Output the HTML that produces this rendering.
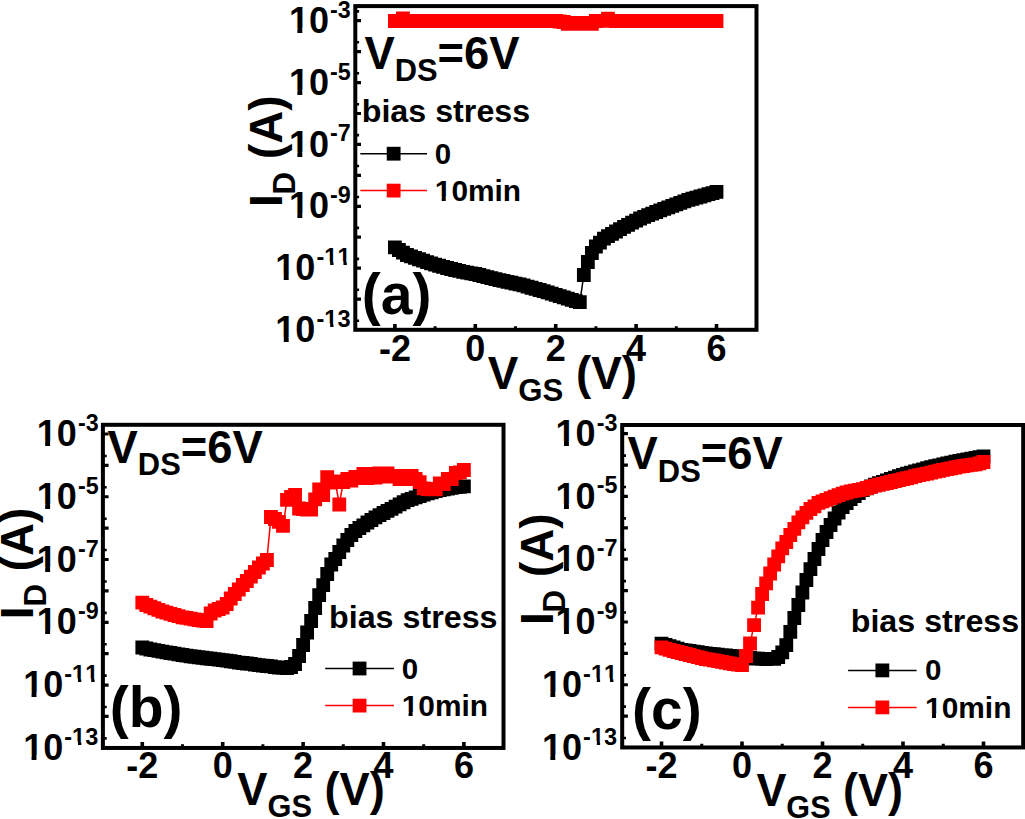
<!DOCTYPE html><html><head><meta charset="utf-8"><style>html,body{margin:0;padding:0;background:#fff;overflow:hidden}svg{display:block}</style></head><body><svg width="1025" height="819" viewBox="0 0 1025 819" font-family='"Liberation Sans", sans-serif' font-weight="bold" fill="#000" style="font-kerning:none">
<rect width="1025" height="819" fill="#fff"/>
<path d="M394.90,247.30 L398.92,250.00 L402.94,252.60 L406.96,255.00 L410.98,256.40 L415.00,257.80 L419.02,259.24 L423.04,260.72 L427.06,262.20 L431.08,263.40 L435.10,264.60 L439.12,265.77 L443.14,266.90 L447.16,268.00 L451.18,269.00 L455.20,270.00 L459.22,270.94 L463.24,271.86 L467.26,272.70 L471.28,273.35 L475.30,274.00 L479.32,275.02 L483.34,276.04 L487.36,277.06 L491.38,278.07 L495.40,279.09 L499.42,280.03 L503.44,280.92 L507.46,281.81 L511.48,282.69 L515.50,283.58 L519.52,284.47 L523.54,285.46 L527.56,286.60 L531.58,287.74 L535.60,288.88 L539.62,290.02 L543.64,291.16 L547.66,292.36 L551.68,293.60 L555.70,294.83 L559.72,296.10 L563.74,297.39 L567.76,298.67 L571.78,299.86 L575.80,301.03 L579.82,302.20 L583.84,275.00 L587.86,262.00 L591.88,253.00 L595.90,246.50 L599.92,242.60 L603.94,238.60 L607.96,236.22 L611.98,233.84 L616.00,231.48 L620.02,229.11 L624.04,226.93 L628.06,224.83 L632.08,222.72 L636.10,220.62 L640.12,218.52 L644.14,216.82 L648.16,215.22 L652.18,213.62 L656.20,212.02 L660.22,210.42 L664.24,208.82 L668.26,207.32 L672.28,205.85 L676.30,204.37 L680.32,202.90 L684.34,201.42 L688.36,199.95 L692.38,198.77 L696.40,197.62 L700.42,196.48 L704.44,195.33 L708.46,194.19 L712.48,193.04 L716.50,191.90" stroke="#000" stroke-width="1.5" fill="none"/>
<path d="M388.00,240.40h13.8v13.8h-13.8z M392.02,243.10h13.8v13.8h-13.8z M396.04,245.70h13.8v13.8h-13.8z M400.06,248.10h13.8v13.8h-13.8z M404.08,249.50h13.8v13.8h-13.8z M408.10,250.90h13.8v13.8h-13.8z M412.12,252.34h13.8v13.8h-13.8z M416.14,253.82h13.8v13.8h-13.8z M420.16,255.30h13.8v13.8h-13.8z M424.18,256.50h13.8v13.8h-13.8z M428.20,257.70h13.8v13.8h-13.8z M432.22,258.87h13.8v13.8h-13.8z M436.24,260.00h13.8v13.8h-13.8z M440.26,261.10h13.8v13.8h-13.8z M444.28,262.10h13.8v13.8h-13.8z M448.30,263.10h13.8v13.8h-13.8z M452.32,264.04h13.8v13.8h-13.8z M456.34,264.96h13.8v13.8h-13.8z M460.36,265.80h13.8v13.8h-13.8z M464.38,266.45h13.8v13.8h-13.8z M468.40,267.10h13.8v13.8h-13.8z M472.42,268.12h13.8v13.8h-13.8z M476.44,269.14h13.8v13.8h-13.8z M480.46,270.16h13.8v13.8h-13.8z M484.48,271.17h13.8v13.8h-13.8z M488.50,272.19h13.8v13.8h-13.8z M492.52,273.13h13.8v13.8h-13.8z M496.54,274.02h13.8v13.8h-13.8z M500.56,274.91h13.8v13.8h-13.8z M504.58,275.79h13.8v13.8h-13.8z M508.60,276.68h13.8v13.8h-13.8z M512.62,277.57h13.8v13.8h-13.8z M516.64,278.56h13.8v13.8h-13.8z M520.66,279.70h13.8v13.8h-13.8z M524.68,280.84h13.8v13.8h-13.8z M528.70,281.98h13.8v13.8h-13.8z M532.72,283.12h13.8v13.8h-13.8z M536.74,284.26h13.8v13.8h-13.8z M540.76,285.46h13.8v13.8h-13.8z M544.78,286.70h13.8v13.8h-13.8z M548.80,287.93h13.8v13.8h-13.8z M552.82,289.20h13.8v13.8h-13.8z M556.84,290.49h13.8v13.8h-13.8z M560.86,291.77h13.8v13.8h-13.8z M564.88,292.96h13.8v13.8h-13.8z M568.90,294.13h13.8v13.8h-13.8z M572.92,295.30h13.8v13.8h-13.8z M576.94,268.10h13.8v13.8h-13.8z M580.96,255.10h13.8v13.8h-13.8z M584.98,246.10h13.8v13.8h-13.8z M589.00,239.60h13.8v13.8h-13.8z M593.02,235.70h13.8v13.8h-13.8z M597.04,231.70h13.8v13.8h-13.8z M601.06,229.32h13.8v13.8h-13.8z M605.08,226.94h13.8v13.8h-13.8z M609.10,224.58h13.8v13.8h-13.8z M613.12,222.21h13.8v13.8h-13.8z M617.14,220.03h13.8v13.8h-13.8z M621.16,217.93h13.8v13.8h-13.8z M625.18,215.82h13.8v13.8h-13.8z M629.20,213.72h13.8v13.8h-13.8z M633.22,211.62h13.8v13.8h-13.8z M637.24,209.92h13.8v13.8h-13.8z M641.26,208.32h13.8v13.8h-13.8z M645.28,206.72h13.8v13.8h-13.8z M649.30,205.12h13.8v13.8h-13.8z M653.32,203.52h13.8v13.8h-13.8z M657.34,201.92h13.8v13.8h-13.8z M661.36,200.42h13.8v13.8h-13.8z M665.38,198.95h13.8v13.8h-13.8z M669.40,197.47h13.8v13.8h-13.8z M673.42,196.00h13.8v13.8h-13.8z M677.44,194.52h13.8v13.8h-13.8z M681.46,193.05h13.8v13.8h-13.8z M685.48,191.87h13.8v13.8h-13.8z M689.50,190.72h13.8v13.8h-13.8z M693.52,189.58h13.8v13.8h-13.8z M697.54,188.43h13.8v13.8h-13.8z M701.56,187.29h13.8v13.8h-13.8z M705.58,186.14h13.8v13.8h-13.8z M709.60,185.00h13.8v13.8h-13.8z" fill="#000"/>
<path d="M394.90,21.00 L398.92,21.00 L402.94,18.50 L406.96,21.00 L410.98,21.00 L415.00,21.00 L419.02,21.00 L423.04,21.00 L427.06,21.00 L431.08,21.00 L435.10,21.00 L439.12,21.00 L443.14,21.00 L447.16,21.00 L451.18,21.00 L455.20,21.00 L459.22,21.00 L463.24,21.00 L467.26,21.00 L471.28,21.00 L475.30,21.00 L479.32,21.00 L483.34,21.00 L487.36,21.00 L491.38,21.00 L495.40,21.00 L499.42,21.00 L503.44,21.00 L507.46,21.00 L511.48,21.00 L515.50,21.00 L519.52,21.00 L523.54,21.00 L527.56,21.00 L531.58,21.00 L535.60,21.00 L539.62,21.00 L543.64,21.00 L547.66,21.00 L551.68,21.00 L555.70,21.00 L559.72,21.50 L563.74,22.00 L567.76,23.80 L571.78,22.80 L575.80,23.80 L579.82,23.00 L583.84,23.80 L587.86,23.00 L591.88,23.80 L595.90,21.00 L599.92,20.80 L603.94,20.80 L607.96,18.70 L611.98,20.80 L616.00,21.00 L620.02,21.00 L624.04,21.00 L628.06,21.00 L632.08,21.00 L636.10,21.00 L640.12,21.00 L644.14,21.00 L648.16,21.00 L652.18,21.00 L656.20,21.00 L660.22,21.00 L664.24,21.00 L668.26,21.00 L672.28,21.00 L676.30,21.00 L680.32,21.00 L684.34,21.00 L688.36,21.00 L692.38,21.00 L696.40,21.00 L700.42,21.00 L704.44,21.00 L708.46,21.00 L712.48,21.00 L716.50,21.00" stroke="#f00" stroke-width="1.5" fill="none"/>
<path d="M388.00,14.10h13.8v13.8h-13.8z M392.02,14.10h13.8v13.8h-13.8z M396.04,11.60h13.8v13.8h-13.8z M400.06,14.10h13.8v13.8h-13.8z M404.08,14.10h13.8v13.8h-13.8z M408.10,14.10h13.8v13.8h-13.8z M412.12,14.10h13.8v13.8h-13.8z M416.14,14.10h13.8v13.8h-13.8z M420.16,14.10h13.8v13.8h-13.8z M424.18,14.10h13.8v13.8h-13.8z M428.20,14.10h13.8v13.8h-13.8z M432.22,14.10h13.8v13.8h-13.8z M436.24,14.10h13.8v13.8h-13.8z M440.26,14.10h13.8v13.8h-13.8z M444.28,14.10h13.8v13.8h-13.8z M448.30,14.10h13.8v13.8h-13.8z M452.32,14.10h13.8v13.8h-13.8z M456.34,14.10h13.8v13.8h-13.8z M460.36,14.10h13.8v13.8h-13.8z M464.38,14.10h13.8v13.8h-13.8z M468.40,14.10h13.8v13.8h-13.8z M472.42,14.10h13.8v13.8h-13.8z M476.44,14.10h13.8v13.8h-13.8z M480.46,14.10h13.8v13.8h-13.8z M484.48,14.10h13.8v13.8h-13.8z M488.50,14.10h13.8v13.8h-13.8z M492.52,14.10h13.8v13.8h-13.8z M496.54,14.10h13.8v13.8h-13.8z M500.56,14.10h13.8v13.8h-13.8z M504.58,14.10h13.8v13.8h-13.8z M508.60,14.10h13.8v13.8h-13.8z M512.62,14.10h13.8v13.8h-13.8z M516.64,14.10h13.8v13.8h-13.8z M520.66,14.10h13.8v13.8h-13.8z M524.68,14.10h13.8v13.8h-13.8z M528.70,14.10h13.8v13.8h-13.8z M532.72,14.10h13.8v13.8h-13.8z M536.74,14.10h13.8v13.8h-13.8z M540.76,14.10h13.8v13.8h-13.8z M544.78,14.10h13.8v13.8h-13.8z M548.80,14.10h13.8v13.8h-13.8z M552.82,14.60h13.8v13.8h-13.8z M556.84,15.10h13.8v13.8h-13.8z M560.86,16.90h13.8v13.8h-13.8z M564.88,15.90h13.8v13.8h-13.8z M568.90,16.90h13.8v13.8h-13.8z M572.92,16.10h13.8v13.8h-13.8z M576.94,16.90h13.8v13.8h-13.8z M580.96,16.10h13.8v13.8h-13.8z M584.98,16.90h13.8v13.8h-13.8z M589.00,14.10h13.8v13.8h-13.8z M593.02,13.90h13.8v13.8h-13.8z M597.04,13.90h13.8v13.8h-13.8z M601.06,11.80h13.8v13.8h-13.8z M605.08,13.90h13.8v13.8h-13.8z M609.10,14.10h13.8v13.8h-13.8z M613.12,14.10h13.8v13.8h-13.8z M617.14,14.10h13.8v13.8h-13.8z M621.16,14.10h13.8v13.8h-13.8z M625.18,14.10h13.8v13.8h-13.8z M629.20,14.10h13.8v13.8h-13.8z M633.22,14.10h13.8v13.8h-13.8z M637.24,14.10h13.8v13.8h-13.8z M641.26,14.10h13.8v13.8h-13.8z M645.28,14.10h13.8v13.8h-13.8z M649.30,14.10h13.8v13.8h-13.8z M653.32,14.10h13.8v13.8h-13.8z M657.34,14.10h13.8v13.8h-13.8z M661.36,14.10h13.8v13.8h-13.8z M665.38,14.10h13.8v13.8h-13.8z M669.40,14.10h13.8v13.8h-13.8z M673.42,14.10h13.8v13.8h-13.8z M677.44,14.10h13.8v13.8h-13.8z M681.46,14.10h13.8v13.8h-13.8z M685.48,14.10h13.8v13.8h-13.8z M689.50,14.10h13.8v13.8h-13.8z M693.52,14.10h13.8v13.8h-13.8z M697.54,14.10h13.8v13.8h-13.8z M701.56,14.10h13.8v13.8h-13.8z M705.58,14.10h13.8v13.8h-13.8z M709.60,14.10h13.8v13.8h-13.8z" fill="#f00"/>
<rect x="355.30" y="6.10" width="401.20" height="323.70" fill="none" stroke="#000" stroke-width="4.0"/>
<path d="M394.90,329.80V323.90 M475.30,329.80V323.90 M555.70,329.80V323.90 M636.10,329.80V323.90 M716.50,329.80V323.90" stroke="#000" stroke-width="3.6" fill="none"/>
<path d="M435.10,329.80V326.20 M515.50,329.80V326.20 M595.90,329.80V326.20 M676.30,329.80V326.20" stroke="#000" stroke-width="3" fill="none"/>
<path d="M355.30,299.07H361.00 M355.30,268.14H361.00 M355.30,237.21H361.00 M355.30,206.28H361.00 M355.30,175.35H361.00 M355.30,144.42H361.00 M355.30,113.49H361.00 M355.30,82.56H361.00 M355.30,51.63H361.00 M355.30,20.70H361.00" stroke="#000" stroke-width="3.2" fill="none"/>
<path d="M355.30,320.69H359.10 M355.30,289.76H359.10 M355.30,258.83H359.10 M355.30,227.90H359.10 M355.30,196.97H359.10 M355.30,166.04H359.10 M355.30,135.11H359.10 M355.30,104.18H359.10 M355.30,73.25H359.10 M355.30,42.32H359.10 M355.30,11.39H359.10" stroke="#000" stroke-width="2.6" fill="none"/>
<text x="330.12" y="17.70" font-size="24.5" textLength="20.74" lengthAdjust="spacingAndGlyphs">-3</text>
<text x="288.97" y="32.80" font-size="36">10</text>
<rect x="288.62" y="28.07" width="8.75" height="5.53" fill="#fff"/>
<rect x="302.31" y="28.07" width="6.87" height="5.53" fill="#fff"/>
<text x="330.12" y="79.56" font-size="24.5" textLength="20.74" lengthAdjust="spacingAndGlyphs">-5</text>
<text x="288.97" y="94.66" font-size="36">10</text>
<rect x="288.62" y="89.93" width="8.75" height="5.53" fill="#fff"/>
<rect x="302.31" y="89.93" width="6.87" height="5.53" fill="#fff"/>
<text x="330.12" y="141.42" font-size="24.5" textLength="20.74" lengthAdjust="spacingAndGlyphs">-7</text>
<text x="288.97" y="156.52" font-size="36">10</text>
<rect x="288.62" y="151.79" width="8.75" height="5.53" fill="#fff"/>
<rect x="302.31" y="151.79" width="6.87" height="5.53" fill="#fff"/>
<text x="330.12" y="203.28" font-size="24.5" textLength="20.74" lengthAdjust="spacingAndGlyphs">-9</text>
<text x="288.97" y="218.38" font-size="36">10</text>
<rect x="288.62" y="213.65" width="8.75" height="5.53" fill="#fff"/>
<rect x="302.31" y="213.65" width="6.87" height="5.53" fill="#fff"/>
<text x="316.49" y="265.14" font-size="24.5" textLength="34.02" lengthAdjust="spacingAndGlyphs">-11</text>
<rect x="324.21" y="261.60" width="5.96" height="4.34" fill="#fff"/>
<rect x="333.52" y="261.60" width="4.68" height="4.34" fill="#fff"/>
<rect x="337.49" y="261.60" width="5.96" height="4.34" fill="#fff"/>
<rect x="346.81" y="261.60" width="4.68" height="4.34" fill="#fff"/>
<text x="275.35" y="280.24" font-size="36">10</text>
<rect x="275.00" y="275.51" width="8.75" height="5.53" fill="#fff"/>
<rect x="288.69" y="275.51" width="6.87" height="5.53" fill="#fff"/>
<text x="316.49" y="327.00" font-size="24.5" textLength="34.02" lengthAdjust="spacingAndGlyphs">-13</text>
<rect x="324.21" y="323.46" width="5.96" height="4.34" fill="#fff"/>
<rect x="333.52" y="323.46" width="4.68" height="4.34" fill="#fff"/>
<text x="275.35" y="342.10" font-size="36">10</text>
<rect x="275.00" y="337.37" width="8.75" height="5.53" fill="#fff"/>
<rect x="288.69" y="337.37" width="6.87" height="5.53" fill="#fff"/>
<text x="394.90" y="360.80" font-size="36" text-anchor="middle">-2</text>
<text x="475.30" y="360.80" font-size="36" text-anchor="middle">0</text>
<text x="555.70" y="360.80" font-size="36" text-anchor="middle">2</text>
<text x="636.10" y="360.80" font-size="36" text-anchor="middle">4</text>
<text x="716.50" y="360.80" font-size="36" text-anchor="middle">6</text>
<text x="487.70" y="388.50" font-size="47" textLength="149.3" lengthAdjust="spacingAndGlyphs">V<tspan font-size="32" dy="12.4">GS</tspan><tspan dy="-12.4"> (V)</tspan></text>
<text transform="translate(282.40,207.10) rotate(-90)" font-size="47" textLength="111.6" lengthAdjust="spacingAndGlyphs">I<tspan font-size="32" dy="12.4">D</tspan><tspan dy="-12.4"> (A)</tspan></text>
<text x="364.40" y="68.60" font-size="47" textLength="155.1" lengthAdjust="spacingAndGlyphs">V<tspan font-size="32" dy="12.4">DS</tspan><tspan dy="-12.4">=6V</tspan></text>
<text x="361.70" y="122.00" font-size="31.3" textLength="168.5" lengthAdjust="spacingAndGlyphs">bias stress</text>
<path d="M360.30,153.70H427.00" stroke="#000" stroke-width="1.5"/>
<rect x="386.75" y="146.80" width="13.8" height="13.8" fill="#000"/>
<text x="434.80" y="164.00" font-size="29.5">0</text>
<path d="M360.30,190.60H427.00" stroke="#f00" stroke-width="1.5"/>
<rect x="386.75" y="183.70" width="13.8" height="13.8" fill="#f00"/>
<text x="434.80" y="200.70" font-size="29.5" textLength="86.3" lengthAdjust="spacingAndGlyphs">10min</text>
<rect x="434.51" y="196.65" width="7.17" height="4.85" fill="#fff"/>
<rect x="445.73" y="196.65" width="5.63" height="4.85" fill="#fff"/>
<text x="361.8" y="313.5" font-size="57">(a)</text>
<path d="M142.30,647.50 L146.32,648.50 L150.34,649.50 L154.36,650.20 L158.38,650.90 L162.40,651.60 L166.42,652.30 L170.44,653.00 L174.46,653.67 L178.48,654.33 L182.50,655.00 L186.52,655.67 L190.54,656.25 L194.56,656.75 L198.58,657.25 L202.60,657.75 L206.62,658.25 L210.64,658.73 L214.66,659.20 L218.68,659.67 L222.70,660.13 L226.72,660.60 L230.74,661.27 L234.76,661.93 L238.78,662.54 L242.80,663.01 L246.82,663.48 L250.84,663.95 L254.86,664.60 L258.88,665.16 L262.90,665.58 L266.92,665.99 L270.94,666.40 L274.96,667.04 L278.98,667.52 L283.00,667.90 L287.02,668.00 L291.04,667.00 L295.06,664.00 L299.08,656.00 L303.10,645.00 L307.12,632.50 L311.14,621.00 L315.16,608.00 L319.18,595.20 L323.20,585.20 L327.22,574.00 L331.24,564.50 L335.26,559.00 L339.28,552.00 L343.30,545.50 L347.32,540.00 L351.34,535.00 L355.36,531.00 L359.38,528.00 L363.40,525.30 L367.42,522.50 L371.44,520.00 L375.46,517.30 L379.48,515.15 L383.50,513.00 L387.52,510.92 L391.54,508.83 L395.56,506.68 L399.58,504.47 L403.60,502.26 L407.62,500.22 L411.64,498.81 L415.66,497.40 L419.68,495.99 L423.70,494.64 L427.72,493.46 L431.74,492.28 L435.76,491.09 L439.78,490.12 L443.80,489.35 L447.82,488.58 L451.84,487.81 L455.86,487.22 L459.88,486.76 L463.90,486.30" stroke="#000" stroke-width="1.5" fill="none"/>
<path d="M135.40,640.60h13.8v13.8h-13.8z M139.42,641.60h13.8v13.8h-13.8z M143.44,642.60h13.8v13.8h-13.8z M147.46,643.30h13.8v13.8h-13.8z M151.48,644.00h13.8v13.8h-13.8z M155.50,644.70h13.8v13.8h-13.8z M159.52,645.40h13.8v13.8h-13.8z M163.54,646.10h13.8v13.8h-13.8z M167.56,646.77h13.8v13.8h-13.8z M171.58,647.43h13.8v13.8h-13.8z M175.60,648.10h13.8v13.8h-13.8z M179.62,648.77h13.8v13.8h-13.8z M183.64,649.35h13.8v13.8h-13.8z M187.66,649.85h13.8v13.8h-13.8z M191.68,650.35h13.8v13.8h-13.8z M195.70,650.85h13.8v13.8h-13.8z M199.72,651.35h13.8v13.8h-13.8z M203.74,651.83h13.8v13.8h-13.8z M207.76,652.30h13.8v13.8h-13.8z M211.78,652.77h13.8v13.8h-13.8z M215.80,653.23h13.8v13.8h-13.8z M219.82,653.70h13.8v13.8h-13.8z M223.84,654.37h13.8v13.8h-13.8z M227.86,655.03h13.8v13.8h-13.8z M231.88,655.64h13.8v13.8h-13.8z M235.90,656.11h13.8v13.8h-13.8z M239.92,656.58h13.8v13.8h-13.8z M243.94,657.05h13.8v13.8h-13.8z M247.96,657.70h13.8v13.8h-13.8z M251.98,658.26h13.8v13.8h-13.8z M256.00,658.68h13.8v13.8h-13.8z M260.02,659.09h13.8v13.8h-13.8z M264.04,659.50h13.8v13.8h-13.8z M268.06,660.14h13.8v13.8h-13.8z M272.08,660.62h13.8v13.8h-13.8z M276.10,661.00h13.8v13.8h-13.8z M280.12,661.10h13.8v13.8h-13.8z M284.14,660.10h13.8v13.8h-13.8z M288.16,657.10h13.8v13.8h-13.8z M292.18,649.10h13.8v13.8h-13.8z M296.20,638.10h13.8v13.8h-13.8z M300.22,625.60h13.8v13.8h-13.8z M304.24,614.10h13.8v13.8h-13.8z M308.26,601.10h13.8v13.8h-13.8z M312.28,588.30h13.8v13.8h-13.8z M316.30,578.30h13.8v13.8h-13.8z M320.32,567.10h13.8v13.8h-13.8z M324.34,557.60h13.8v13.8h-13.8z M328.36,552.10h13.8v13.8h-13.8z M332.38,545.10h13.8v13.8h-13.8z M336.40,538.60h13.8v13.8h-13.8z M340.42,533.10h13.8v13.8h-13.8z M344.44,528.10h13.8v13.8h-13.8z M348.46,524.10h13.8v13.8h-13.8z M352.48,521.10h13.8v13.8h-13.8z M356.50,518.40h13.8v13.8h-13.8z M360.52,515.60h13.8v13.8h-13.8z M364.54,513.10h13.8v13.8h-13.8z M368.56,510.40h13.8v13.8h-13.8z M372.58,508.25h13.8v13.8h-13.8z M376.60,506.10h13.8v13.8h-13.8z M380.62,504.02h13.8v13.8h-13.8z M384.64,501.93h13.8v13.8h-13.8z M388.66,499.78h13.8v13.8h-13.8z M392.68,497.57h13.8v13.8h-13.8z M396.70,495.36h13.8v13.8h-13.8z M400.72,493.32h13.8v13.8h-13.8z M404.74,491.91h13.8v13.8h-13.8z M408.76,490.50h13.8v13.8h-13.8z M412.78,489.09h13.8v13.8h-13.8z M416.80,487.74h13.8v13.8h-13.8z M420.82,486.56h13.8v13.8h-13.8z M424.84,485.38h13.8v13.8h-13.8z M428.86,484.19h13.8v13.8h-13.8z M432.88,483.22h13.8v13.8h-13.8z M436.90,482.45h13.8v13.8h-13.8z M440.92,481.68h13.8v13.8h-13.8z M444.94,480.91h13.8v13.8h-13.8z M448.96,480.32h13.8v13.8h-13.8z M452.98,479.86h13.8v13.8h-13.8z M457.00,479.40h13.8v13.8h-13.8z" fill="#000"/>
<path d="M142.30,602.60 L146.32,605.00 L150.34,606.62 L154.36,608.25 L158.38,609.88 L162.40,611.50 L166.42,612.66 L170.44,613.82 L174.46,614.98 L178.48,616.14 L182.50,617.30 L186.52,617.97 L190.54,618.65 L194.56,619.33 L198.58,620.00 L202.60,620.50 L206.62,621.00 L210.64,613.50 L214.66,610.50 L218.68,609.00 L222.70,607.50 L226.72,604.00 L230.74,598.50 L234.76,594.00 L238.78,589.50 L242.80,585.00 L246.82,581.00 L250.84,576.60 L254.86,572.00 L258.88,567.50 L262.90,563.50 L266.92,560.00 L270.94,517.00 L274.96,519.00 L278.98,521.90 L283.00,525.90 L287.02,499.80 L291.04,497.00 L295.06,494.90 L299.08,508.50 L303.10,509.00 L307.12,509.50 L311.14,509.70 L315.16,499.30 L319.18,489.30 L323.20,495.00 L327.22,477.20 L331.24,482.50 L335.26,481.50 L339.28,504.50 L343.30,482.00 L347.32,479.00 L351.34,480.50 L355.36,477.00 L359.38,478.00 L363.40,474.00 L367.42,478.00 L371.44,474.00 L375.46,477.50 L379.48,473.50 L383.50,476.50 L387.52,473.30 L391.54,476.50 L395.56,475.90 L399.58,479.00 L403.60,476.00 L407.62,479.00 L411.64,476.00 L415.66,479.00 L419.68,482.20 L423.70,488.40 L427.72,489.00 L431.74,489.30 L435.76,489.30 L439.78,483.30 L443.80,484.00 L447.82,479.00 L451.84,479.00 L455.86,473.00 L459.88,472.40 L463.90,470.00" stroke="#f00" stroke-width="1.5" fill="none"/>
<path d="M135.40,595.70h13.8v13.8h-13.8z M139.42,598.10h13.8v13.8h-13.8z M143.44,599.73h13.8v13.8h-13.8z M147.46,601.35h13.8v13.8h-13.8z M151.48,602.98h13.8v13.8h-13.8z M155.50,604.60h13.8v13.8h-13.8z M159.52,605.76h13.8v13.8h-13.8z M163.54,606.92h13.8v13.8h-13.8z M167.56,608.08h13.8v13.8h-13.8z M171.58,609.24h13.8v13.8h-13.8z M175.60,610.40h13.8v13.8h-13.8z M179.62,611.07h13.8v13.8h-13.8z M183.64,611.75h13.8v13.8h-13.8z M187.66,612.43h13.8v13.8h-13.8z M191.68,613.10h13.8v13.8h-13.8z M195.70,613.60h13.8v13.8h-13.8z M199.72,614.10h13.8v13.8h-13.8z M203.74,606.60h13.8v13.8h-13.8z M207.76,603.60h13.8v13.8h-13.8z M211.78,602.10h13.8v13.8h-13.8z M215.80,600.60h13.8v13.8h-13.8z M219.82,597.10h13.8v13.8h-13.8z M223.84,591.60h13.8v13.8h-13.8z M227.86,587.10h13.8v13.8h-13.8z M231.88,582.60h13.8v13.8h-13.8z M235.90,578.10h13.8v13.8h-13.8z M239.92,574.10h13.8v13.8h-13.8z M243.94,569.70h13.8v13.8h-13.8z M247.96,565.10h13.8v13.8h-13.8z M251.98,560.60h13.8v13.8h-13.8z M256.00,556.60h13.8v13.8h-13.8z M260.02,553.10h13.8v13.8h-13.8z M264.04,510.10h13.8v13.8h-13.8z M268.06,512.10h13.8v13.8h-13.8z M272.08,515.00h13.8v13.8h-13.8z M276.10,519.00h13.8v13.8h-13.8z M280.12,492.90h13.8v13.8h-13.8z M284.14,490.10h13.8v13.8h-13.8z M288.16,488.00h13.8v13.8h-13.8z M292.18,501.60h13.8v13.8h-13.8z M296.20,502.10h13.8v13.8h-13.8z M300.22,502.60h13.8v13.8h-13.8z M304.24,502.80h13.8v13.8h-13.8z M308.26,492.40h13.8v13.8h-13.8z M312.28,482.40h13.8v13.8h-13.8z M316.30,488.10h13.8v13.8h-13.8z M320.32,470.30h13.8v13.8h-13.8z M324.34,475.60h13.8v13.8h-13.8z M328.36,474.60h13.8v13.8h-13.8z M332.38,497.60h13.8v13.8h-13.8z M336.40,475.10h13.8v13.8h-13.8z M340.42,472.10h13.8v13.8h-13.8z M344.44,473.60h13.8v13.8h-13.8z M348.46,470.10h13.8v13.8h-13.8z M352.48,471.10h13.8v13.8h-13.8z M356.50,467.10h13.8v13.8h-13.8z M360.52,471.10h13.8v13.8h-13.8z M364.54,467.10h13.8v13.8h-13.8z M368.56,470.60h13.8v13.8h-13.8z M372.58,466.60h13.8v13.8h-13.8z M376.60,469.60h13.8v13.8h-13.8z M380.62,466.40h13.8v13.8h-13.8z M384.64,469.60h13.8v13.8h-13.8z M388.66,469.00h13.8v13.8h-13.8z M392.68,472.10h13.8v13.8h-13.8z M396.70,469.10h13.8v13.8h-13.8z M400.72,472.10h13.8v13.8h-13.8z M404.74,469.10h13.8v13.8h-13.8z M408.76,472.10h13.8v13.8h-13.8z M412.78,475.30h13.8v13.8h-13.8z M416.80,481.50h13.8v13.8h-13.8z M420.82,482.10h13.8v13.8h-13.8z M424.84,482.40h13.8v13.8h-13.8z M428.86,482.40h13.8v13.8h-13.8z M432.88,476.40h13.8v13.8h-13.8z M436.90,477.10h13.8v13.8h-13.8z M440.92,472.10h13.8v13.8h-13.8z M444.94,472.10h13.8v13.8h-13.8z M448.96,466.10h13.8v13.8h-13.8z M452.98,465.50h13.8v13.8h-13.8z M457.00,463.10h13.8v13.8h-13.8z" fill="#f00"/>
<rect x="102.90" y="424.80" width="400.60" height="323.15" fill="none" stroke="#000" stroke-width="4.0"/>
<path d="M142.30,747.95V742.05 M222.70,747.95V742.05 M303.10,747.95V742.05 M383.50,747.95V742.05 M463.90,747.95V742.05" stroke="#000" stroke-width="3.6" fill="none"/>
<path d="M182.50,747.95V744.35 M262.90,747.95V744.35 M343.30,747.95V744.35 M423.70,747.95V744.35" stroke="#000" stroke-width="3" fill="none"/>
<path d="M102.90,716.42H108.60 M102.90,685.04H108.60 M102.90,653.66H108.60 M102.90,622.28H108.60 M102.90,590.90H108.60 M102.90,559.52H108.60 M102.90,528.14H108.60 M102.90,496.76H108.60 M102.90,465.38H108.60 M102.90,434.00H108.60" stroke="#000" stroke-width="3.2" fill="none"/>
<path d="M102.90,738.35H106.70 M102.90,706.97H106.70 M102.90,675.59H106.70 M102.90,644.21H106.70 M102.90,612.83H106.70 M102.90,581.45H106.70 M102.90,550.07H106.70 M102.90,518.69H106.70 M102.90,487.31H106.70 M102.90,455.93H106.70" stroke="#000" stroke-width="2.6" fill="none"/>
<text x="77.92" y="431.00" font-size="24.5" textLength="20.74" lengthAdjust="spacingAndGlyphs">-3</text>
<text x="36.77" y="446.10" font-size="36">10</text>
<rect x="36.42" y="441.37" width="8.75" height="5.53" fill="#fff"/>
<rect x="50.11" y="441.37" width="6.87" height="5.53" fill="#fff"/>
<text x="77.92" y="493.76" font-size="24.5" textLength="20.74" lengthAdjust="spacingAndGlyphs">-5</text>
<text x="36.77" y="508.86" font-size="36">10</text>
<rect x="36.42" y="504.13" width="8.75" height="5.53" fill="#fff"/>
<rect x="50.11" y="504.13" width="6.87" height="5.53" fill="#fff"/>
<text x="77.92" y="556.52" font-size="24.5" textLength="20.74" lengthAdjust="spacingAndGlyphs">-7</text>
<text x="36.77" y="571.62" font-size="36">10</text>
<rect x="36.42" y="566.89" width="8.75" height="5.53" fill="#fff"/>
<rect x="50.11" y="566.89" width="6.87" height="5.53" fill="#fff"/>
<text x="77.92" y="619.28" font-size="24.5" textLength="20.74" lengthAdjust="spacingAndGlyphs">-9</text>
<text x="36.77" y="634.38" font-size="36">10</text>
<rect x="36.42" y="629.65" width="8.75" height="5.53" fill="#fff"/>
<rect x="50.11" y="629.65" width="6.87" height="5.53" fill="#fff"/>
<text x="64.29" y="682.04" font-size="24.5" textLength="34.02" lengthAdjust="spacingAndGlyphs">-11</text>
<rect x="72.01" y="678.50" width="5.96" height="4.34" fill="#fff"/>
<rect x="81.32" y="678.50" width="4.68" height="4.34" fill="#fff"/>
<rect x="85.29" y="678.50" width="5.96" height="4.34" fill="#fff"/>
<rect x="94.61" y="678.50" width="4.68" height="4.34" fill="#fff"/>
<text x="23.15" y="697.14" font-size="36">10</text>
<rect x="22.80" y="692.41" width="8.75" height="5.53" fill="#fff"/>
<rect x="36.49" y="692.41" width="6.87" height="5.53" fill="#fff"/>
<text x="64.29" y="744.80" font-size="24.5" textLength="34.02" lengthAdjust="spacingAndGlyphs">-13</text>
<rect x="72.01" y="741.26" width="5.96" height="4.34" fill="#fff"/>
<rect x="81.32" y="741.26" width="4.68" height="4.34" fill="#fff"/>
<text x="23.15" y="759.90" font-size="36">10</text>
<rect x="22.80" y="755.17" width="8.75" height="5.53" fill="#fff"/>
<rect x="36.49" y="755.17" width="6.87" height="5.53" fill="#fff"/>
<text x="142.30" y="778.20" font-size="36" text-anchor="middle">-2</text>
<text x="222.70" y="778.20" font-size="36" text-anchor="middle">0</text>
<text x="303.10" y="778.20" font-size="36" text-anchor="middle">2</text>
<text x="383.50" y="778.20" font-size="36" text-anchor="middle">4</text>
<text x="463.90" y="778.20" font-size="36" text-anchor="middle">6</text>
<text x="237.30" y="805.30" font-size="47" textLength="147.5" lengthAdjust="spacingAndGlyphs">V<tspan font-size="32" dy="12.0">GS</tspan><tspan dy="-12.0"> (V)</tspan></text>
<text transform="translate(33.40,619.30) rotate(-90)" font-size="47" textLength="111.6" lengthAdjust="spacingAndGlyphs">I<tspan font-size="32" dy="12.4">D</tspan><tspan dy="-12.4"> (A)</tspan></text>
<text x="107.60" y="463.00" font-size="47" textLength="155.1" lengthAdjust="spacingAndGlyphs">V<tspan font-size="32" dy="12.4">DS</tspan><tspan dy="-12.4">=6V</tspan></text>
<text x="329.00" y="628.00" font-size="31.3" textLength="168.5" lengthAdjust="spacingAndGlyphs">bias stress</text>
<path d="M325.20,668.50H393.90" stroke="#000" stroke-width="1.5"/>
<rect x="352.65" y="661.60" width="13.8" height="13.8" fill="#000"/>
<text x="401.70" y="678.80" font-size="29.5">0</text>
<path d="M325.20,705.60H393.90" stroke="#f00" stroke-width="1.5"/>
<rect x="352.65" y="698.70" width="13.8" height="13.8" fill="#f00"/>
<text x="401.70" y="715.90" font-size="29.5" textLength="86.3" lengthAdjust="spacingAndGlyphs">10min</text>
<rect x="401.41" y="711.85" width="7.17" height="4.85" fill="#fff"/>
<rect x="412.63" y="711.85" width="5.63" height="4.85" fill="#fff"/>
<text x="109.7" y="727.0" font-size="57">(b)</text>
<path d="M661.50,643.60 L665.52,644.84 L669.55,646.08 L673.58,647.32 L677.60,648.56 L681.62,649.80 L685.65,650.40 L689.67,651.00 L693.70,651.60 L697.73,652.20 L701.75,652.80 L705.77,653.40 L709.80,653.82 L713.83,654.24 L717.85,654.67 L721.88,655.09 L725.90,655.49 L729.92,655.87 L733.95,656.24 L737.98,656.62 L742.00,657.00 L746.02,657.50 L750.05,658.00 L754.08,658.50 L758.10,658.67 L762.12,658.83 L766.15,659.00 L770.17,658.90 L774.20,658.80 L778.23,657.00 L782.25,652.40 L786.27,645.20 L790.30,631.80 L794.33,618.00 L798.35,605.00 L802.38,592.50 L806.40,580.00 L810.42,569.20 L814.45,559.00 L818.48,549.00 L822.50,540.00 L826.52,532.00 L830.55,525.00 L834.58,518.50 L838.60,512.50 L842.62,507.00 L846.65,503.00 L850.67,499.00 L854.70,496.00 L858.73,493.00 L862.75,490.00 L866.77,488.24 L870.80,486.48 L874.83,484.73 L878.85,483.21 L882.88,481.79 L886.90,480.37 L890.92,478.95 L894.95,477.53 L898.98,476.11 L903.00,474.84 L907.02,473.73 L911.05,472.62 L915.08,471.51 L919.10,470.40 L923.12,469.29 L927.15,468.18 L931.17,467.13 L935.20,466.22 L939.23,465.32 L943.25,464.42 L947.27,463.51 L951.30,462.61 L955.33,461.70 L959.35,460.80 L963.38,460.07 L967.40,459.33 L971.42,458.60 L975.45,457.87 L979.48,457.13 L983.50,456.40" stroke="#000" stroke-width="1.5" fill="none"/>
<path d="M654.60,636.70h13.8v13.8h-13.8z M658.62,637.94h13.8v13.8h-13.8z M662.65,639.18h13.8v13.8h-13.8z M666.68,640.42h13.8v13.8h-13.8z M670.70,641.66h13.8v13.8h-13.8z M674.73,642.90h13.8v13.8h-13.8z M678.75,643.50h13.8v13.8h-13.8z M682.77,644.10h13.8v13.8h-13.8z M686.80,644.70h13.8v13.8h-13.8z M690.83,645.30h13.8v13.8h-13.8z M694.85,645.90h13.8v13.8h-13.8z M698.88,646.50h13.8v13.8h-13.8z M702.90,646.92h13.8v13.8h-13.8z M706.93,647.34h13.8v13.8h-13.8z M710.95,647.77h13.8v13.8h-13.8z M714.98,648.19h13.8v13.8h-13.8z M719.00,648.59h13.8v13.8h-13.8z M723.02,648.97h13.8v13.8h-13.8z M727.05,649.34h13.8v13.8h-13.8z M731.08,649.72h13.8v13.8h-13.8z M735.10,650.10h13.8v13.8h-13.8z M739.12,650.60h13.8v13.8h-13.8z M743.15,651.10h13.8v13.8h-13.8z M747.18,651.60h13.8v13.8h-13.8z M751.20,651.77h13.8v13.8h-13.8z M755.23,651.93h13.8v13.8h-13.8z M759.25,652.10h13.8v13.8h-13.8z M763.27,652.00h13.8v13.8h-13.8z M767.30,651.90h13.8v13.8h-13.8z M771.33,650.10h13.8v13.8h-13.8z M775.35,645.50h13.8v13.8h-13.8z M779.38,638.30h13.8v13.8h-13.8z M783.40,624.90h13.8v13.8h-13.8z M787.43,611.10h13.8v13.8h-13.8z M791.45,598.10h13.8v13.8h-13.8z M795.48,585.60h13.8v13.8h-13.8z M799.50,573.10h13.8v13.8h-13.8z M803.52,562.30h13.8v13.8h-13.8z M807.55,552.10h13.8v13.8h-13.8z M811.58,542.10h13.8v13.8h-13.8z M815.60,533.10h13.8v13.8h-13.8z M819.62,525.10h13.8v13.8h-13.8z M823.65,518.10h13.8v13.8h-13.8z M827.68,511.60h13.8v13.8h-13.8z M831.70,505.60h13.8v13.8h-13.8z M835.73,500.10h13.8v13.8h-13.8z M839.75,496.10h13.8v13.8h-13.8z M843.77,492.10h13.8v13.8h-13.8z M847.80,489.10h13.8v13.8h-13.8z M851.83,486.10h13.8v13.8h-13.8z M855.85,483.10h13.8v13.8h-13.8z M859.88,481.34h13.8v13.8h-13.8z M863.90,479.58h13.8v13.8h-13.8z M867.93,477.83h13.8v13.8h-13.8z M871.95,476.31h13.8v13.8h-13.8z M875.98,474.89h13.8v13.8h-13.8z M880.00,473.47h13.8v13.8h-13.8z M884.02,472.05h13.8v13.8h-13.8z M888.05,470.63h13.8v13.8h-13.8z M892.08,469.21h13.8v13.8h-13.8z M896.10,467.94h13.8v13.8h-13.8z M900.12,466.83h13.8v13.8h-13.8z M904.15,465.72h13.8v13.8h-13.8z M908.18,464.61h13.8v13.8h-13.8z M912.20,463.50h13.8v13.8h-13.8z M916.23,462.39h13.8v13.8h-13.8z M920.25,461.28h13.8v13.8h-13.8z M924.27,460.23h13.8v13.8h-13.8z M928.30,459.32h13.8v13.8h-13.8z M932.33,458.42h13.8v13.8h-13.8z M936.35,457.52h13.8v13.8h-13.8z M940.38,456.61h13.8v13.8h-13.8z M944.40,455.71h13.8v13.8h-13.8z M948.43,454.80h13.8v13.8h-13.8z M952.45,453.90h13.8v13.8h-13.8z M956.48,453.17h13.8v13.8h-13.8z M960.50,452.43h13.8v13.8h-13.8z M964.52,451.70h13.8v13.8h-13.8z M968.55,450.97h13.8v13.8h-13.8z M972.58,450.23h13.8v13.8h-13.8z M976.60,449.50h13.8v13.8h-13.8z" fill="#000"/>
<path d="M661.50,647.40 L665.52,648.60 L669.55,649.80 L673.58,651.00 L677.60,652.00 L681.62,653.00 L685.65,654.00 L689.67,655.00 L693.70,656.06 L697.73,657.11 L701.75,658.17 L705.77,659.04 L709.80,659.71 L713.83,660.39 L717.85,661.06 L721.88,661.79 L725.90,662.56 L729.92,663.34 L733.95,664.11 L737.98,664.67 L742.00,665.00 L746.02,656.00 L750.05,643.50 L754.08,625.20 L758.10,607.60 L762.12,594.00 L766.15,583.40 L770.17,573.50 L774.20,564.50 L778.23,556.30 L782.25,548.40 L786.27,542.00 L790.30,535.00 L794.33,528.80 L798.35,522.40 L802.38,517.30 L806.40,512.80 L810.42,509.00 L814.45,506.40 L818.48,502.80 L822.50,501.36 L826.52,499.83 L830.55,498.17 L834.58,496.59 L838.60,495.07 L842.62,493.65 L846.65,492.50 L850.67,491.35 L854.70,490.58 L858.73,489.98 L862.75,489.25 L866.77,487.98 L870.80,486.79 L874.83,485.60 L878.85,484.73 L882.88,483.87 L886.90,483.00 L890.92,482.00 L894.95,481.00 L898.98,480.04 L903.00,479.15 L907.02,478.27 L911.05,477.39 L915.08,476.03 L919.10,475.06 L923.12,474.30 L927.15,473.54 L931.17,472.70 L935.20,471.70 L939.23,470.76 L943.25,469.96 L947.27,469.16 L951.30,468.34 L955.33,467.52 L959.35,466.69 L963.38,465.99 L967.40,465.46 L971.42,464.93 L975.45,464.41 L979.48,463.28 L983.50,462.00" stroke="#f00" stroke-width="1.5" fill="none"/>
<path d="M654.60,640.50h13.8v13.8h-13.8z M658.62,641.70h13.8v13.8h-13.8z M662.65,642.90h13.8v13.8h-13.8z M666.68,644.10h13.8v13.8h-13.8z M670.70,645.10h13.8v13.8h-13.8z M674.73,646.10h13.8v13.8h-13.8z M678.75,647.10h13.8v13.8h-13.8z M682.77,648.10h13.8v13.8h-13.8z M686.80,649.16h13.8v13.8h-13.8z M690.83,650.21h13.8v13.8h-13.8z M694.85,651.27h13.8v13.8h-13.8z M698.88,652.14h13.8v13.8h-13.8z M702.90,652.81h13.8v13.8h-13.8z M706.93,653.49h13.8v13.8h-13.8z M710.95,654.16h13.8v13.8h-13.8z M714.98,654.89h13.8v13.8h-13.8z M719.00,655.66h13.8v13.8h-13.8z M723.02,656.44h13.8v13.8h-13.8z M727.05,657.21h13.8v13.8h-13.8z M731.08,657.77h13.8v13.8h-13.8z M735.10,658.10h13.8v13.8h-13.8z M739.12,649.10h13.8v13.8h-13.8z M743.15,636.60h13.8v13.8h-13.8z M747.18,618.30h13.8v13.8h-13.8z M751.20,600.70h13.8v13.8h-13.8z M755.23,587.10h13.8v13.8h-13.8z M759.25,576.50h13.8v13.8h-13.8z M763.27,566.60h13.8v13.8h-13.8z M767.30,557.60h13.8v13.8h-13.8z M771.33,549.40h13.8v13.8h-13.8z M775.35,541.50h13.8v13.8h-13.8z M779.38,535.10h13.8v13.8h-13.8z M783.40,528.10h13.8v13.8h-13.8z M787.43,521.90h13.8v13.8h-13.8z M791.45,515.50h13.8v13.8h-13.8z M795.48,510.40h13.8v13.8h-13.8z M799.50,505.90h13.8v13.8h-13.8z M803.52,502.10h13.8v13.8h-13.8z M807.55,499.50h13.8v13.8h-13.8z M811.58,495.90h13.8v13.8h-13.8z M815.60,494.46h13.8v13.8h-13.8z M819.62,492.93h13.8v13.8h-13.8z M823.65,491.27h13.8v13.8h-13.8z M827.68,489.69h13.8v13.8h-13.8z M831.70,488.17h13.8v13.8h-13.8z M835.73,486.75h13.8v13.8h-13.8z M839.75,485.60h13.8v13.8h-13.8z M843.77,484.45h13.8v13.8h-13.8z M847.80,483.68h13.8v13.8h-13.8z M851.83,483.08h13.8v13.8h-13.8z M855.85,482.35h13.8v13.8h-13.8z M859.88,481.08h13.8v13.8h-13.8z M863.90,479.89h13.8v13.8h-13.8z M867.93,478.70h13.8v13.8h-13.8z M871.95,477.83h13.8v13.8h-13.8z M875.98,476.97h13.8v13.8h-13.8z M880.00,476.10h13.8v13.8h-13.8z M884.02,475.10h13.8v13.8h-13.8z M888.05,474.10h13.8v13.8h-13.8z M892.08,473.14h13.8v13.8h-13.8z M896.10,472.25h13.8v13.8h-13.8z M900.12,471.37h13.8v13.8h-13.8z M904.15,470.49h13.8v13.8h-13.8z M908.18,469.13h13.8v13.8h-13.8z M912.20,468.16h13.8v13.8h-13.8z M916.23,467.40h13.8v13.8h-13.8z M920.25,466.64h13.8v13.8h-13.8z M924.27,465.80h13.8v13.8h-13.8z M928.30,464.80h13.8v13.8h-13.8z M932.33,463.86h13.8v13.8h-13.8z M936.35,463.06h13.8v13.8h-13.8z M940.38,462.26h13.8v13.8h-13.8z M944.40,461.44h13.8v13.8h-13.8z M948.43,460.62h13.8v13.8h-13.8z M952.45,459.79h13.8v13.8h-13.8z M956.48,459.09h13.8v13.8h-13.8z M960.50,458.56h13.8v13.8h-13.8z M964.52,458.03h13.8v13.8h-13.8z M968.55,457.51h13.8v13.8h-13.8z M972.58,456.38h13.8v13.8h-13.8z M976.60,455.10h13.8v13.8h-13.8z" fill="#f00"/>
<rect x="622.20" y="425.00" width="401.00" height="322.45" fill="none" stroke="#000" stroke-width="4.0"/>
<path d="M661.50,747.45V741.55 M742.00,747.45V741.55 M822.50,747.45V741.55 M903.00,747.45V741.55 M983.50,747.45V741.55" stroke="#000" stroke-width="3.6" fill="none"/>
<path d="M701.75,747.45V743.85 M782.25,747.45V743.85 M862.75,747.45V743.85 M943.25,747.45V743.85" stroke="#000" stroke-width="3" fill="none"/>
<path d="M622.20,716.12H627.90 M622.20,684.74H627.90 M622.20,653.36H627.90 M622.20,621.98H627.90 M622.20,590.60H627.90 M622.20,559.22H627.90 M622.20,527.84H627.90 M622.20,496.46H627.90 M622.20,465.08H627.90 M622.20,433.70H627.90" stroke="#000" stroke-width="3.2" fill="none"/>
<path d="M622.20,738.05H626.00 M622.20,706.67H626.00 M622.20,675.29H626.00 M622.20,643.91H626.00 M622.20,612.53H626.00 M622.20,581.15H626.00 M622.20,549.77H626.00 M622.20,518.39H626.00 M622.20,487.01H626.00 M622.20,455.63H626.00" stroke="#000" stroke-width="2.6" fill="none"/>
<text x="596.72" y="430.70" font-size="24.5" textLength="20.74" lengthAdjust="spacingAndGlyphs">-3</text>
<text x="555.57" y="445.80" font-size="36">10</text>
<rect x="555.22" y="441.07" width="8.75" height="5.53" fill="#fff"/>
<rect x="568.91" y="441.07" width="6.87" height="5.53" fill="#fff"/>
<text x="596.72" y="493.46" font-size="24.5" textLength="20.74" lengthAdjust="spacingAndGlyphs">-5</text>
<text x="555.57" y="508.56" font-size="36">10</text>
<rect x="555.22" y="503.83" width="8.75" height="5.53" fill="#fff"/>
<rect x="568.91" y="503.83" width="6.87" height="5.53" fill="#fff"/>
<text x="596.72" y="556.22" font-size="24.5" textLength="20.74" lengthAdjust="spacingAndGlyphs">-7</text>
<text x="555.57" y="571.32" font-size="36">10</text>
<rect x="555.22" y="566.59" width="8.75" height="5.53" fill="#fff"/>
<rect x="568.91" y="566.59" width="6.87" height="5.53" fill="#fff"/>
<text x="596.72" y="618.98" font-size="24.5" textLength="20.74" lengthAdjust="spacingAndGlyphs">-9</text>
<text x="555.57" y="634.08" font-size="36">10</text>
<rect x="555.22" y="629.35" width="8.75" height="5.53" fill="#fff"/>
<rect x="568.91" y="629.35" width="6.87" height="5.53" fill="#fff"/>
<text x="583.09" y="681.74" font-size="24.5" textLength="34.02" lengthAdjust="spacingAndGlyphs">-11</text>
<rect x="590.81" y="678.20" width="5.96" height="4.34" fill="#fff"/>
<rect x="600.12" y="678.20" width="4.68" height="4.34" fill="#fff"/>
<rect x="604.09" y="678.20" width="5.96" height="4.34" fill="#fff"/>
<rect x="613.41" y="678.20" width="4.68" height="4.34" fill="#fff"/>
<text x="541.95" y="696.84" font-size="36">10</text>
<rect x="541.60" y="692.11" width="8.75" height="5.53" fill="#fff"/>
<rect x="555.29" y="692.11" width="6.87" height="5.53" fill="#fff"/>
<text x="583.09" y="744.50" font-size="24.5" textLength="34.02" lengthAdjust="spacingAndGlyphs">-13</text>
<rect x="590.81" y="740.96" width="5.96" height="4.34" fill="#fff"/>
<rect x="600.12" y="740.96" width="4.68" height="4.34" fill="#fff"/>
<text x="541.95" y="759.60" font-size="36">10</text>
<rect x="541.60" y="754.87" width="8.75" height="5.53" fill="#fff"/>
<rect x="555.29" y="754.87" width="6.87" height="5.53" fill="#fff"/>
<text x="661.50" y="778.00" font-size="36" text-anchor="middle">-2</text>
<text x="742.00" y="778.00" font-size="36" text-anchor="middle">0</text>
<text x="822.50" y="778.00" font-size="36" text-anchor="middle">2</text>
<text x="903.00" y="778.00" font-size="36" text-anchor="middle">4</text>
<text x="983.50" y="778.00" font-size="36" text-anchor="middle">6</text>
<text x="756.40" y="806.20" font-size="47" textLength="146.5" lengthAdjust="spacingAndGlyphs">V<tspan font-size="32" dy="11.4">GS</tspan><tspan dy="-11.4"> (V)</tspan></text>
<text transform="translate(552.70,625.10) rotate(-90)" font-size="47" textLength="111.6" lengthAdjust="spacingAndGlyphs">I<tspan font-size="32" dy="12.4">D</tspan><tspan dy="-12.4"> (A)</tspan></text>
<text x="627.60" y="469.20" font-size="47" textLength="155.1" lengthAdjust="spacingAndGlyphs">V<tspan font-size="32" dy="12.4">DS</tspan><tspan dy="-12.4">=6V</tspan></text>
<text x="850.70" y="631.70" font-size="31.3" textLength="168.5" lengthAdjust="spacingAndGlyphs">bias stress</text>
<path d="M848.10,670.40H916.60" stroke="#000" stroke-width="1.5"/>
<rect x="875.45" y="663.50" width="13.8" height="13.8" fill="#000"/>
<text x="925.10" y="680.40" font-size="29.5">0</text>
<path d="M848.10,707.40H916.60" stroke="#f00" stroke-width="1.5"/>
<rect x="875.45" y="700.50" width="13.8" height="13.8" fill="#f00"/>
<text x="925.10" y="717.50" font-size="29.5" textLength="86.3" lengthAdjust="spacingAndGlyphs">10min</text>
<rect x="924.81" y="713.45" width="7.17" height="4.85" fill="#fff"/>
<rect x="936.03" y="713.45" width="5.63" height="4.85" fill="#fff"/>
<text x="632.1" y="728.7" font-size="57">(c)</text>
</svg></body></html>
